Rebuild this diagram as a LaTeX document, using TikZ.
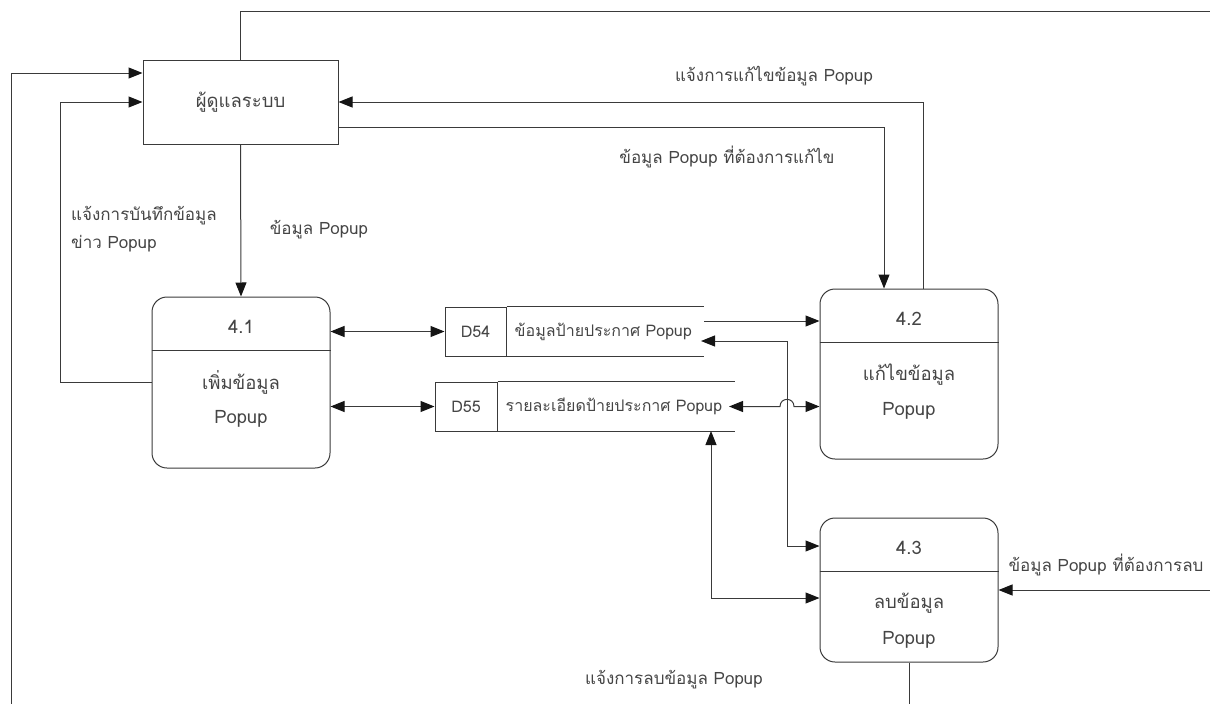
\documentclass[tikz,border=0pt]{standalone}
\usepackage{fontspec}
\newfontfamily\thaifont[Script=Thai]{Loma}
\usetikzlibrary{arrows.meta}
\definecolor{lc}{HTML}{3A3A3A}
\definecolor{txt}{HTML}{454545}
\definecolor{tipc}{HTML}{151515}
\begin{document}
\begin{tikzpicture}[x=1pt,y=-1pt,
  every node/.style={text=txt},
  ln/.style={draw=lc, line width=1pt},
  tip/.tip={Triangle[length=14pt,width=11pt,color=tipc]},
  arr/.style={ln, -tip},
  barr/.style={ln, tip-tip},
  proc/.style={ln, rounded corners=15pt, minimum width=178pt, inner sep=0pt},
  ent/.style={ln, minimum width=195pt, minimum height=84pt, inner sep=0pt},
  idcell/.style={ln, inner sep=0pt, minimum height=49pt},
  lbl/.style={font=\thaifont\fontsize{17}{28}\selectfont, inner sep=1pt},
  btxt/.style={font=\thaifont\fontsize{18.5}{20}\selectfont, inner sep=1pt},
  stxt/.style={font=\thaifont\fontsize{16}{18}\selectfont, inner sep=1pt}
]
\useasboundingbox (0,0) rectangle (1210,704);

% entity
\node[ent, btxt] (admin) at (240.5,102) {ผู้ดูแลระบบ};

% processes
\node[proc, minimum height=171pt] (p41) at (241,382.5) {};
\node[proc, minimum height=170pt] (p42) at (909,374) {};
\node[proc, minimum height=144pt] (p43) at (909,590) {};
\foreach \p/\n/\t in {p41/4.1/เพิ่มข้อมูล, p42/4.2/แก้ไขข้อมูล, p43/4.3/ลบข้อมูล}{
  \draw[ln] ([yshift=-54pt]\p.north west) -- ([yshift=-54pt]\p.north east);
  \node[btxt] (\p num) at ([yshift=-30pt]\p.north) {\n};
  \node[btxt] (\p nm) at ([yshift=-86pt]\p.north) {\t};
  \node[btxt] (\p pp) at ([yshift=-122pt]\p.north) {Popup};
}

% data stores
\node[idcell, stxt, minimum width=61pt] (d54) at (475.5,331.5) {D54};
\node[stxt, anchor=west, inner sep=8pt] (d54t) at (d54.east) {ข้อมูลป้ายประกาศ Popup};
\coordinate (d54e) at (704,331.5);
\draw[ln] (d54.north east) -- (d54.north east -| d54e);
\draw[ln] (d54.south east) -- (d54.south east -| d54e);
\coordinate (d54o) at (704,321);
\coordinate (d54i) at (704,341);

\node[idcell, stxt, minimum width=62pt] (d55) at (466,406.5) {D55};
\node[stxt, anchor=west, inner sep=8pt] (d55t) at (d55.east) {รายละเอียดป้ายประกาศ Popup};
\coordinate (d55e) at (735,406.5);
\draw[ln] (d55.north east) -- (d55.north east -| d55e);
\draw[ln] (d55.south east) -- (d55.south east -| d55e);
\coordinate (d55b) at (711,431);

% free ends
\coordinate (topR) at (1210,11);
\coordinate (botL) at (11,704);
\coordinate (rgt) at (1210,590);
\coordinate (bot43) at (909,704);

% connectors
\draw[ln] (admin.north) -- (admin.north |- topR) -- (topR);
\draw[arr] (botL) |- ([yshift=29pt]admin.west);
\draw[arr] (p41.west) -- ++(-91,0) |- (admin.west);
\draw[arr] ([xshift=14pt]p42.north) |- (admin.east);
\draw[arr] ([yshift=-25pt]admin.east) -| ([xshift=-25pt]p42.north);
\draw[arr] (admin.south) -- (p41.north);
\draw[barr] (p41.east |- d54) -- (d54.west);
\draw[barr] (p41.east |- d55) -- (d55.west);
\draw[arr] (d54o) -- (d54o -| p42.west);
\draw[barr, shorten <=-3pt] (d54i) -- ++(83,0) |- ([yshift=44pt]p43.west);
\draw[barr, shorten <=-6pt] (d55e) -- (780,406.5) .. controls (780,397) and (794,397) .. (794,406.5) -- (p42.west |- d55e);
\draw[barr] (d55b) |- ([yshift=-8pt]p43.west);
\draw[arr] (rgt) -- (p43.east);
\draw[ln] (p43.south) -- (bot43);

% labels
\node[lbl] (l1) at (774,76) {แจ้งการแก้ไขข้อมูล Popup};
\node[lbl] (l2) at (727,157) {ข้อมูล Popup ที่ต้องการแก้ไข};
\node[lbl, anchor=west, align=left] (l3) at (70,229) {แจ้งการบันทึกข้อมูล\\ข่าว Popup};
\node[lbl] (l4) at (319,230) {ข้อมูล Popup};
\node[lbl] (l5) at (1106,565) {ข้อมูล Popup ที่ต้องการลบ};
\node[lbl] (l6) at (674,680) {แจ้งการลบข้อมูล Popup};
\end{tikzpicture}
\end{document}
